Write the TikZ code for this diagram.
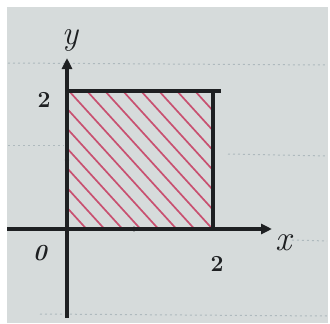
\documentclass[tikz,border=0pt]{standalone}
\usepackage{fontspec}
\usetikzlibrary{arrows.meta}
\definecolor{paper}{HTML}{D6DBDB}
\definecolor{ink}{HTML}{1E2022}
\definecolor{hatch}{HTML}{C85070}
\definecolor{rule}{HTML}{AEB9BD}
\begin{document}
\begin{tikzpicture}[x=1pt,y=-1pt,
  axis/.style={ink,line width=3.2pt,-{Triangle[length=11pt,width=10pt]}},
  edge/.style={ink,line width=3.2pt},
  hatchline/.style={hatch,line width=1.7pt},
  ruled/.style={rule,line width=1pt,dash pattern=on 2pt off 3pt},
  lab/.style={ink,inner sep=0pt},
  tick/.style={ink,line width=1.6pt}]
\useasboundingbox (0,0) rectangle (330,324);
\fill[white] (0,0) rectangle (330,324);
\fill[paper] (7,7) rectangle (328,323);
% notebook rules
\draw[ruled] (8,63) -- (327,65);
\draw[ruled] (8,145) -- (64,145);
\draw[ruled] (228,154) -- (327,156);
\draw[ruled] (292,240) -- (327,241);
\draw[ruled] (40,314) -- (327,316);
% coordinates
\coordinate (O) at (67,229);
\coordinate (xs) at (7,229);
\coordinate (xe) at (272,229);
\coordinate (ys) at (67,318);
\coordinate (ye) at (67,58);
\coordinate (A) at (67,229);
\coordinate (B) at (213,229);
\coordinate (C) at (213,91);
\coordinate (D) at (67,91);
\coordinate (Dx) at (221,91);
% hatching
\begin{scope}
\clip (A) rectangle (C);
\foreach \t in {195,177,...,-57}
  \draw[hatchline] ({\t-200},{91-220}) -- ({\t+200},{91+220});
\end{scope}
% square edges
\draw[edge] (D) -- (Dx);
\draw[edge] (B) -- (C);
% axes
\draw[axis] (xs) -- (xe);
\draw[axis] (ys) -- (ye);
% ticks
\coordinate (t1) at (134,229);
\coordinate (t2) at (67,160);
\fill[ink] (t1) circle (2.4pt);
\fill[ink] (t2) circle (2.2pt);
% labels
\node[lab,font=\fontsize{34}{34}\selectfont\itshape] (ly) at (70,40) {y};
\node[lab,font=\fontsize{36}{36}\selectfont\itshape] (lx) at (284,243) {x};
\node[lab,font=\fontsize{23}{23}\selectfont\bfseries] (l2y) at (44,100) {2};
\node[lab,font=\fontsize{23}{23}\selectfont\bfseries\itshape] (l0) at (40,253) {0};
\node[lab,font=\fontsize{23}{23}\selectfont\bfseries] (l2x) at (217,264) {2};
\end{tikzpicture}
\end{document}
